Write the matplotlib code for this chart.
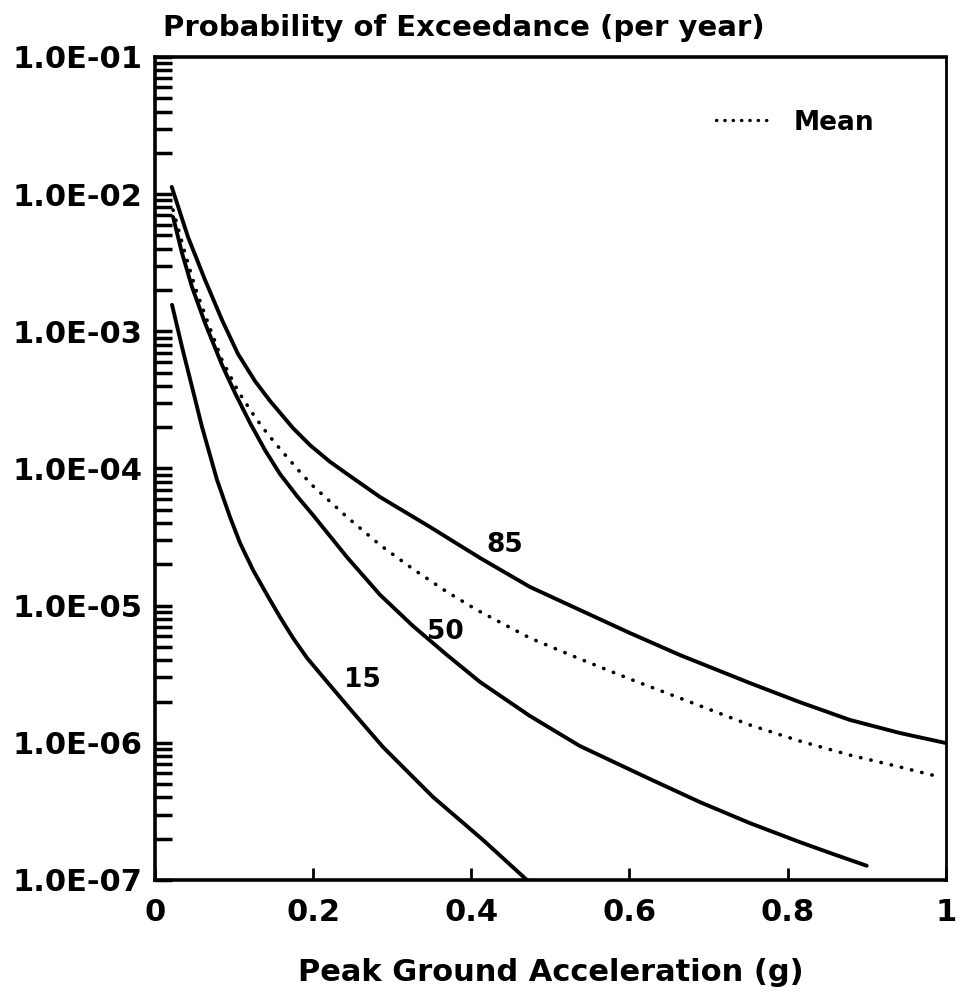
import matplotlib
matplotlib.use('Agg')
import matplotlib.pyplot as plt
from matplotlib.lines import Line2D
from matplotlib.ticker import FixedLocator, LogLocator, FuncFormatter, NullFormatter

# hazard curves: PGA (g) vs annual probability of exceedance
pga_85 = [0.0211, 0.0417, 0.0632, 0.0847, 0.1049, 0.1264, 0.1454, 0.1745, 0.196, 0.2212,
          0.2465, 0.2845, 0.3477, 0.4109, 0.4741, 0.5373, 0.6005, 0.6637, 0.7522, 0.8154,
          0.8786, 0.9418, 1.0]
prob_85 = [1.13e-2, 4.87e-3, 2.37e-3, 1.21e-3, 6.84e-4, 4.34e-4, 3.11e-4, 1.97e-4, 1.48e-4,
           1.12e-4, 8.82e-5, 6.2e-5, 3.75e-5, 2.23e-5, 1.37e-5, 9.3e-6, 6.32e-6, 4.37e-6,
           2.73e-6, 1.98e-6, 1.47e-6, 1.18e-6, 9.97e-7]

pga_mean = [0.0228, 0.0379, 0.0506, 0.067, 0.0847, 0.1049, 0.1264, 0.1416, 0.158, 0.1833,
            0.1997, 0.2427, 0.2845, 0.3262, 0.3692, 0.4071, 0.4741, 0.5373, 0.6005, 0.6637,
            0.7522, 0.8154, 0.8786, 0.9418, 0.9924]
prob_mean = [7.66e-3, 3.72e-3, 2.1e-3, 1.15e-3, 6.18e-4, 3.67e-4, 2.37e-4, 1.81e-4, 1.39e-4,
             9.43e-5, 7.46e-5, 4.43e-5, 2.77e-5, 1.85e-5, 1.26e-5, 9.3e-6, 5.81e-6, 4.09e-6,
             2.92e-6, 2.12e-6, 1.35e-6, 1.03e-6, 8.15e-7, 6.67e-7, 5.64e-7]

pga_50 = [0.0228, 0.0341, 0.0468, 0.0632, 0.0847, 0.1024, 0.1201, 0.1391, 0.158, 0.1795,
          0.1997, 0.2427, 0.2845, 0.3262, 0.3692, 0.4109, 0.4741, 0.5373, 0.6258, 0.689,
          0.7522, 0.8154, 0.8571, 0.9001]
prob_50 = [6.82e-3, 3.72e-3, 2.1e-3, 1.15e-3, 5.68e-4, 3.43e-4, 2.15e-4, 1.36e-4, 9.12e-5,
           6.3e-5, 4.58e-5, 2.26e-5, 1.2e-5, 7.11e-6, 4.37e-6, 2.78e-6, 1.57e-6, 9.48e-7,
           5.45e-7, 3.7e-7, 2.6e-7, 1.89e-7, 1.55e-7, 1.27e-7]

pga_15 = [0.0215, 0.0341, 0.0468, 0.0594, 0.0784, 0.0948, 0.1075, 0.1239, 0.1416, 0.158,
          0.1745, 0.1922, 0.2124, 0.2465, 0.2882, 0.3515, 0.4147, 0.4703]
prob_15 = [1.56e-3, 7.69e-4, 3.93e-4, 2.01e-4, 8.25e-5, 4.43e-5, 2.86e-5, 1.82e-5, 1.2e-5,
           8.27e-6, 5.81e-6, 4.16e-6, 3.02e-6, 1.77e-6, 9.33e-7, 4.03e-7, 1.96e-7, 1.0e-7]

# percentile labels written on the curves: (text, x, y)
curve_labels = [('85', 0.4425, 2.77e-5), ('50', 0.3666, 6.43e-6), ('15', 0.2617, 2.87e-6)]

x_ticks = [0, 0.2, 0.4, 0.6, 0.8, 1]
x_tick_labels = ['0', '0.2', '0.4', '0.6', '0.8', '1']
y_ticks = [1e-7, 1e-6, 1e-5, 1e-4, 1e-3, 1e-2, 1e-1]

FS = 22
plt.rcParams['font.family'] = ['DejaVu Sans']
plt.rcParams['font.weight'] = 'bold'


def draw_chart():
    fig = plt.figure(figsize=(9.63, 10.05), dpi=100)
    ax = fig.add_axes([0.161, 0.1244, 0.821, 0.8189])

    for xs, ys in [(pga_85, prob_85), (pga_50, prob_50), (pga_15, prob_15)]:
        ax.plot(xs, ys, color='black', lw=2.8, solid_capstyle='round',
                solid_joinstyle='round')
    ax.plot(pga_mean, prob_mean, color='black', lw=2.6, linestyle=(0, (0.1, 2.8)),
            dash_capstyle='round')

    for txt, x, y in curve_labels:
        ax.text(x, y, txt, fontsize=19, fontweight='bold', ha='center', va='center')

    ax.set_yscale('log')
    ax.set_xlim(0, 1)
    ax.set_ylim(1e-7, 1e-1)

    # axis ticks: inward, only left and bottom
    ax.xaxis.set_major_locator(FixedLocator(x_ticks))
    ax.set_xticklabels(x_tick_labels)
    ax.yaxis.set_major_locator(FixedLocator(y_ticks))
    ax.yaxis.set_minor_locator(LogLocator(base=10, subs=range(2, 10), numticks=20))
    ax.yaxis.set_major_formatter(FuncFormatter(lambda v, p: f'{v:.1E}'))
    ax.yaxis.set_minor_formatter(NullFormatter())
    ax.tick_params(axis='x', which='major', direction='in', length=9, width=2,
                   pad=13, labelsize=FS, top=False)
    ax.tick_params(axis='y', which='major', direction='in', length=12, width=2.5,
                   pad=9, labelsize=FS, right=False)
    ax.tick_params(axis='y', which='minor', direction='in', length=12, width=2.5, right=False)
    for lab in ax.get_xticklabels() + ax.get_yticklabels():
        lab.set_fontweight('bold')

    for side in ['left', 'bottom', 'top']:
        ax.spines[side].set_linewidth(2.6)
    ax.spines['right'].set_linewidth(2.0)

    ax.set_xlabel('Peak Ground Acceleration (g)', fontsize=FS, fontweight='bold', labelpad=22)
    fig.text(0.169, 0.972, 'Probability of Exceedance (per year)', fontsize=21,
             fontweight='bold', ha='left', va='center')

    # legend sample uses tighter dots, as in the original
    mean_handle = Line2D([], [], color='black', lw=2.4, linestyle=(0, (0.1, 2.4)),
                         dash_capstyle='round')
    ax.legend([mean_handle], ['Mean'], loc='upper right', bbox_to_anchor=(0.94, 0.965),
              frameon=False, handlelength=2.1, handletextpad=0.85,
              prop={'weight': 'bold', 'size': 19})

    fig.savefig('out.png', dpi=100)
    plt.close(fig)


def main():
    draw_chart()


if __name__ == "__main__":
    main()
